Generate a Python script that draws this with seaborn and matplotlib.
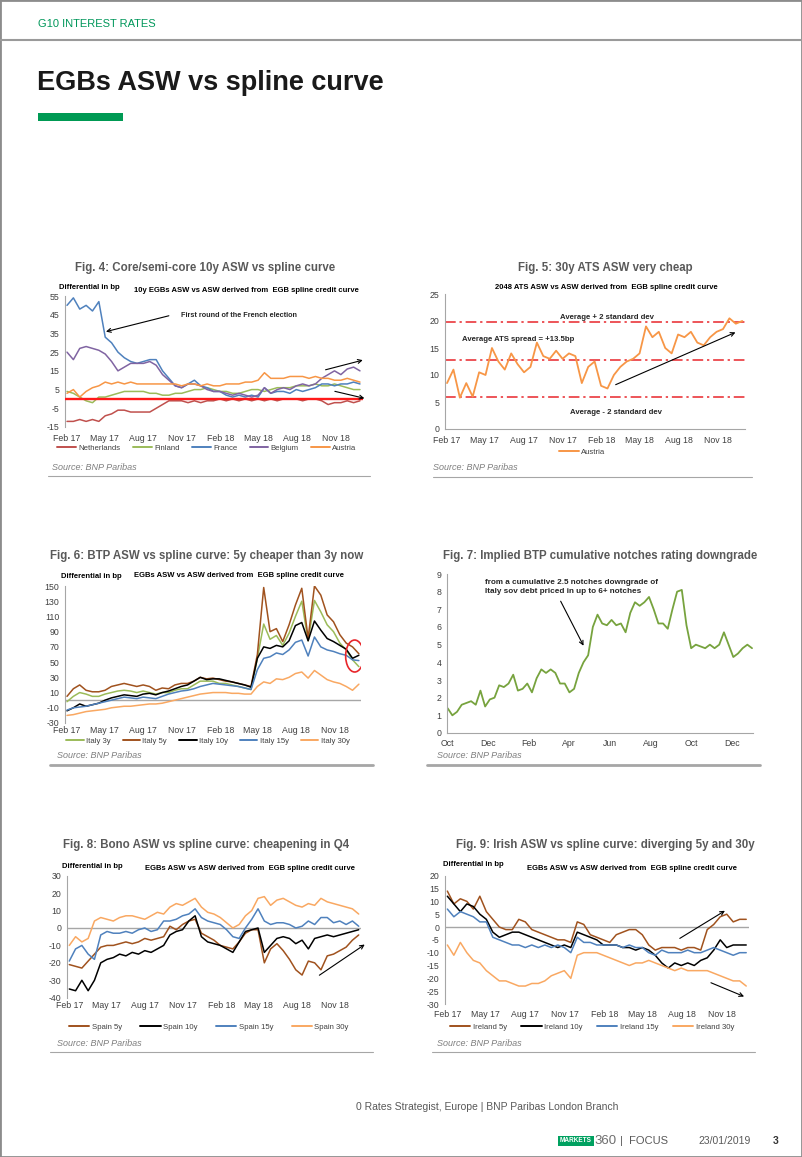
"""
plot.py
EGBs ASW vs spline curve - page with six small Excel-style charts.
"""
import pandas as pd
import matplotlib
matplotlib.use('Agg')
import matplotlib.pyplot as plt
import matplotlib.dates as mdates
from matplotlib.patches import Ellipse, Rectangle
from matplotlib.lines import Line2D
import seaborn as sns

W, H = 802, 1157

# semi-monthly observations, Feb 2017 - end 2018
N_OBS = 47
OBS_START, OBS_END = '2017-02-01', '2018-12-28'

# Fig. 4: 10y core / semi-core
netherlands = [-12, -12, -11, -12, -11, -12, -9, -8, -6, -6, -7, -7, -7, -7, -5, -3, -1, -1, -1, -2,
               -1, -2, -1, -1, 0, -1, 0, -1, 0, -1, 0, -1, 0, -1, 0, 0, 0, -1, 0, 0,
               -1, -3, -2, -2, -1, -2, -1]
finland = [4, 3, 1, -1, -2, 1, 1, 2, 3, 4, 4, 4, 4, 3, 3, 2, 2, 3, 3, 4,
           5, 5, 6, 5, 4, 4, 3, 3, 4, 5, 5, 4, 5, 6, 6, 6, 7, 7, 7, 8,
           7, 7, 8, 7, 6, 5, 5]
france = [50, 54, 48, 50, 47, 52, 33, 30, 25, 22, 20, 19, 20, 21, 21, 15, 11, 7, 6, 8,
          10, 7, 6, 4, 4, 2, 1, 2, 1, 2, 1, 6, 3, 4, 4, 3, 5, 4, 5, 6,
          8, 8, 7, 8, 8, 9, 8]
belgium = [25, 21, 27, 28, 27, 26, 24, 20, 15, 17, 19, 19, 19, 20, 18, 13, 10, 7, 6, 8,
           8, 7, 5, 4, 4, 3, 2, 3, 2, 1, 2, 6, 3, 5, 6, 5, 7, 8, 7, 8,
           11, 13, 15, 13, 16, 17, 15]
austria_10y = [3, 5, 1, 4, 6, 7, 9, 8, 9, 8, 9, 8, 8, 8, 8, 8, 8, 8, 7, 8,
               8, 7, 8, 7, 7, 8, 8, 8, 9, 9, 10, 14, 11, 11, 11, 12, 12, 12, 11, 12,
               11, 11, 10, 10, 11, 10, 9]

# Fig. 5: 2048 ATS
austria_30y = [8.5, 11, 5.8, 8.5, 6, 10.5, 10, 15, 12.5, 11, 14, 12, 10.5, 11.5, 16, 13.5, 13, 14.5, 13, 14,
               13.5, 8.5, 11.5, 12.5, 8, 7.5, 10, 11.5, 12.5, 13, 14, 19, 17, 18, 15, 14, 17.5, 17, 18, 16,
               15.5, 17, 18, 18.5, 20.5, 19.5, 20]
ats_bands = {'upper': 19.8, 'mean': 12.7, 'lower': 5.9}

# Fig. 6: BTP
italy_3y = [-2, 5, 10, 8, 5, 5, 8, 10, 12, 13, 12, 10, 12, 10, 8, 10, 10, 13, 15, 15,
            20, 25, 25, 25, 22, 22, 20, 18, 16, 14, 55, 100, 80, 85, 72, 88, 110, 130, 78, 131,
            116, 99, 90, 75, 66, 53, 44]
italy_5y = [5, 15, 20, 13, 11, 11, 13, 18, 20, 22, 20, 18, 20, 18, 13, 16, 15, 20, 22, 22,
            25, 30, 28, 29, 27, 25, 24, 22, 20, 18, 60, 148, 90, 94, 77, 99, 125, 147, 81, 150,
            138, 112, 103, 86, 75, 70, 61]
italy_10y = [-14, -10, -5, -8, -6, -4, 0, 3, 5, 7, 6, 5, 8, 9, 7, 10, 12, 15, 18, 20,
             25, 30, 27, 28, 28, 26, 24, 22, 20, 17, 55, 70, 68, 72, 70, 78, 98, 102, 78, 104,
             92, 81, 77, 72, 67, 55, 59]
italy_15y = [-13, -10, -9, -8, -6, -4, -2, 0, 2, 4, 3, 2, 4, 3, 2, 5, 8, 10, 12, 13,
             15, 18, 20, 22, 21, 20, 19, 18, 16, 14, 40, 55, 57, 62, 60, 66, 76, 79, 58, 83,
             70, 66, 64, 61, 59, 53, 52]
italy_30y = [-20, -19, -17, -15, -14, -13, -12, -10, -9, -8, -8, -7, -6, -5, -5, -4, -2, 0, 2, 4,
             6, 8, 9, 10, 10, 10, 9, 9, 8, 8, 18, 24, 22, 28, 27, 30, 35, 37, 29, 39,
             33, 27, 24, 22, 18, 13, 21]

# Fig. 7: implied notches, weekly from Oct 2017
NOTCH_START = '2017-10-02'
notches = [1.4, 1.0, 1.2, 1.6, 1.7, 1.8, 1.6, 2.4, 1.5, 1.9, 2.0, 2.7, 2.6, 2.8, 3.3, 2.4, 2.5, 2.8, 2.3, 3.1,
           3.6, 3.4, 3.6, 3.4, 2.8, 2.8, 2.3, 2.5, 3.4, 4.0, 4.4, 6.0, 6.7, 6.2, 6.1, 6.4, 6.1, 6.2, 5.7, 6.8,
           7.4, 7.2, 7.4, 7.7, 7.0, 6.2, 6.2, 5.9, 7.0, 8.0, 8.1, 6.1, 4.8, 5.0, 4.9, 4.8, 5.0, 4.8, 5.0, 5.7,
           5.0, 4.3, 4.5, 4.8, 5.0, 4.8]

# Fig. 8: Bonos
spain_5y = [-21, -22, -23, -19, -15, -11, -10, -10, -9, -8, -9, -8, -6, -7, -6, -5, 1, -1, 2, 4,
            5, -3, -5, -7, -10, -11, -12, -8, -3, -1, -1, -20, -12, -9, -13, -18, -24, -27, -19, -20,
            -24, -16, -15, -13, -11, -7, -4]
spain_10y = [-35, -36, -30, -36, -30, -20, -18, -17, -15, -16, -14, -15, -13, -14, -12, -10, -4, -2, -1, 4,
             7, -5, -8, -9, -10, -12, -14, -8, -2, -1, 0, -14, -10, -6, -5, -6, -9, -7, -12, -6,
             -5, -4, -5, -4, -3, -2, -1]
spain_15y = [-19, -12, -10, -15, -18, -4, -2, -3, -3, -2, -3, -1, 0, -2, -1, 4, 4, 5, 7, 8,
             11, 6, 4, 3, 2, -1, -5, -6, 0, 5, 11, 4, 2, 3, 3, 2, 0, 1, 4, 2,
             6, 6, 3, 4, 2, 4, 1]
spain_30y = [-10, -5, -8, -6, 4, 6, 5, 4, 6, 7, 7, 6, 5, 7, 9, 8, 12, 14, 13, 15,
             17, 12, 9, 8, 6, 3, 0, 2, 7, 10, 17, 18, 13, 16, 17, 15, 13, 12, 14, 13,
             17, 15, 14, 13, 12, 11, 8]

# Fig. 9: Irish
ireland_5y = [14, 9, 11, 10, 7, 12, 6, 3, 0, -1, -1, 3, 2, -1, -2, -3, -4, -5, -5, -6,
              2, 1, -3, -4, -5, -6, -3, -2, -1, -1, -3, -7, -9, -8, -8, -8, -9, -8, -8, -9,
              -1, 1, 4, 5, 2, 3, 3]
ireland_10y = [12, 9, 6, 9, 8, 5, 3, -2, -4, -3, -2, -2, -3, -4, -5, -6, -7, -8, -7, -8,
               -2, -3, -4, -5, -7, -7, -7, -8, -8, -9, -8, -9, -11, -14, -16, -14, -15, -14, -15, -13,
               -12, -9, -5, -8, -7, -7, -7]
ireland_15y = [7, 4, 6, 5, 4, 2, 2, -4, -5, -6, -7, -7, -8, -7, -8, -7, -8, -7, -8, -10,
               -4, -6, -6, -7, -7, -7, -7, -8, -7, -8, -8, -10, -11, -9, -10, -10, -10, -9, -10, -10,
               -9, -8, -9, -10, -11, -10, -10]
ireland_30y = [-7, -11, -6, -10, -13, -14, -17, -19, -21, -21, -22, -23, -23, -22, -22, -21, -19, -18, -17, -20,
               -11, -10, -10, -10, -11, -12, -13, -14, -15, -14, -14, -13, -14, -15, -16, -17, -16, -17, -17, -17,
               -17, -18, -19, -20, -21, -21, -23]

GREEN = '#00975A'
GREY_TXT = '#595959'
AX_TXT = '#404040'
XLIM_A = (pd.Timestamp('2017-01-27'), pd.Timestamp('2019-01-03'))


def box(l, t, r, b):
    return [l / W, 1 - b / H, (r - l) / W, (b - t) / H]


def ftext(fig, x, y, s, **kw):
    fig.text(x / W, 1 - y / H, s, **kw)


def hline(fig, x0, x1, y, color, lw):
    fig.add_artist(Line2D([x0 / W, x1 / W], [1 - y / H] * 2, color=color, lw=lw,
                          transform=fig.transFigure))


def draw_lines(ax, dates, series, colors, lw=1.1):
    df = pd.DataFrame(series)
    df['date'] = dates
    long = df.melt(id_vars='date', var_name='series', value_name='bp')
    sns.lineplot(data=long, x='date', y='bp', hue='series', hue_order=list(series),
                 palette=colors, linewidth=lw, estimator=None, legend=False, ax=ax)


def style(ax, xlim, ylim, yticks, months, fmt, xpad, bottom=True):
    ax.set_xlim(xlim)
    ax.set_ylim(ylim)
    ax.set_yticks(yticks)
    ax.xaxis.set_major_locator(mdates.MonthLocator(bymonth=months))
    ax.xaxis.set_major_formatter(mdates.DateFormatter(fmt))
    ax.set_xlabel('')
    ax.set_ylabel('')
    ax.set_facecolor('none')
    ax.tick_params(axis='y', labelsize=6.3, labelcolor=AX_TXT, color='#A6A6A6',
                   length=2, width=0.6, pad=2)
    ax.tick_params(axis='x', labelsize=6.3, labelcolor=AX_TXT, length=0, pad=xpad)
    for s in ['top', 'right']:
        ax.spines[s].set_visible(False)
    ax.spines['left'].set_color('#A6A6A6')
    ax.spines['left'].set_linewidth(0.8)
    ax.spines['bottom'].set_visible(bottom)
    ax.spines['bottom'].set_color('#A6A6A6')
    ax.spines['bottom'].set_linewidth(0.8)


def legend(ax, fig, colors, x, y, spacing=2.0, hlen=2.6):
    handles = [Line2D([], [], color=c, lw=1.4) for c in colors.values()]
    ax.legend(handles, list(colors), loc='center', bbox_to_anchor=(x / W, 1 - y / H),
              bbox_transform=fig.transFigure, ncol=len(colors), frameon=False,
              fontsize=5.6, handlelength=hlen, handletextpad=0.3, columnspacing=spacing,
              labelcolor=AX_TXT)


def arrow(ax, start, end):
    ax.annotate('', xy=(pd.Timestamp(end[0]), end[1]), xytext=(pd.Timestamp(start[0]), start[1]),
                arrowprops=dict(arrowstyle='->', color='black', lw=0.8, mutation_scale=7),
                annotation_clip=False)


def chart_head(fig, title, xc, yt, sub=None, subx=None, suby=None, diff=None):
    ftext(fig, xc, yt, title, ha='center', va='center', fontsize=8.3, fontweight='bold',
          color=GREY_TXT)
    if sub:
        ftext(fig, subx, suby, sub, ha='center', va='center', fontsize=5.5, fontweight='bold',
              color='black')
    if diff:
        ftext(fig, diff[0], diff[1], 'Differential in bp', ha='left', va='center', fontsize=5.5,
              fontweight='bold', color='black')


def source(fig, x, y, x0, x1, ly, lw=0.8):
    ftext(fig, x, y, 'Source: BNP Paribas', ha='left', va='center', fontsize=6.5,
          style='italic', color='#7F7F7F')
    hline(fig, x0, x1, ly, '#A6A6A6', lw)


def main():
    sns.set_style('white')
    plt.rcParams['font.family'] = ['Liberation Sans', 'DejaVu Sans']
    plt.rcParams['axes.unicode_minus'] = False

    dates = pd.date_range(OBS_START, OBS_END, periods=N_OBS)
    fig = plt.figure(figsize=(W / 100, H / 100), dpi=100)

    # page frame and header
    fig.add_artist(Rectangle((0, 0), 1, 1, transform=fig.transFigure, fill=False,
                             ec='#8C8C8C', lw=2))
    hline(fig, 0, W, 40, '#9A9A9A', 1.5)
    ftext(fig, 38, 24, 'G10 INTEREST RATES', ha='left', va='center', fontsize=8,
          color=GREEN)
    ftext(fig, 37, 83, 'EGBs ASW vs spline curve', ha='left', va='center', fontsize=19.5,
          fontweight='bold', color='#1A1A1A')
    fig.add_artist(Rectangle((38 / W, 1 - 121 / H), 85 / W, 8 / H, transform=fig.transFigure,
                             fc='#009A54', ec='none'))

    # ---- Fig. 4
    ax = fig.add_axes(box(64.9, 296, 362.5, 427))
    c4 = {'Netherlands': '#C0504D', 'Finland': '#9BBB59', 'France': '#4F81BD',
          'Belgium': '#8064A2', 'Austria': '#F79646'}
    ax.axhline(0, color='#FF1A1A', lw=1.7, zorder=3)
    draw_lines(ax, dates, dict(zip(c4, [netherlands, finland, france, belgium, austria_10y])), c4)
    style(ax, XLIM_A, (-15, 55), range(-15, 56, 10), [2, 5, 8, 11], '%b %y', 5, bottom=False)
    ax.text(pd.Timestamp('2017-10-29'), 44.5, 'First round of the French election', fontsize=5.2,
            fontweight='bold', va='center')
    arrow(ax, ('2017-10-07', 44.8), ('2017-04-28', 35.6))
    arrow(ax, ('2018-10-01', 15.2), ('2019-01-10', 21.1))
    arrow(ax, ('2018-10-23', 4.4), ('2019-01-14', 0))
    legend(ax, fig, c4, 207, 448, spacing=1.6, hlen=2.4)
    chart_head(fig, 'Fig. 4: Core/semi-core 10y ASW vs spline curve', 205, 268,
               '10y EGBs ASW vs ASW derived from  EGB spline credit curve', 246, 290, diff=(59, 287))
    source(fig, 52, 467, 48, 370, 476)

    # ---- Fig. 5
    ax = fig.add_axes(box(444.9, 294, 744.8, 429))
    c5 = {'Austria': '#F79646'}
    for v in ats_bands.values():
        ax.axhline(v, color='#E8262B', lw=1.1, ls=(0, (7, 2.5, 1.5, 2.5)))
    draw_lines(ax, dates, {'Austria': austria_30y}, c5, lw=1.3)
    style(ax, XLIM_A, (0, 25), range(0, 26, 5), [2, 5, 8, 11], '%b %y', 5)
    for label, d, y in [('Average + 2 standard dev', '2018-02-13', 20.7),
                        ('Average ATS spread = +13.5bp', '2017-07-18', 16.6),
                        ('Average - 2 standard dev', '2018-03-06', 3.0)]:
        ax.text(pd.Timestamp(d), y, label, ha='center', va='center', fontsize=5.6,
                fontweight='bold')
    arrow(ax, ('2018-02-27', 8.0), ('2018-12-18', 18.1))
    legend(ax, fig, c5, 582, 452)
    chart_head(fig, 'Fig. 5: 30y ATS ASW very cheap', 605, 268,
               '2048 ATS ASW vs ASW derived from  EGB spline credit curve', 606, 287)
    source(fig, 433, 467, 433, 752, 477)

    # ---- Fig. 6
    ax = fig.add_axes(box(64.9, 586, 361.4, 723))
    c6 = {'Italy 3y': '#9BBB59', 'Italy 5y': '#A0521E', 'Italy 10y': '#000000',
          'Italy 15y': '#4F81BD', 'Italy 30y': '#F9A862'}
    ax.axhline(0, color='#A6A6A6', lw=1.0, zorder=0)
    draw_lines(ax, dates, dict(zip(c6, [italy_3y, italy_5y, italy_10y, italy_15y, italy_30y])), c6)
    style(ax, XLIM_A, (-30, 150), range(-30, 151, 20), [2, 5, 8, 11], '%b %y', 2.5, bottom=False)
    ax.add_patch(Ellipse((mdates.date2num(pd.Timestamp('2018-12-18')), 58), width=43, height=42,
                         fill=False, ec='#E8262B', lw=1.2, zorder=5))
    legend(ax, fig, c6, 208, 741, spacing=1.6, hlen=2.2)
    chart_head(fig, 'Fig. 6: BTP ASW vs spline curve: 5y cheaper than 3y now', 207, 556,
               'EGBs ASW vs ASW derived from  EGB spline credit curve', 239, 576, diff=(61, 577))
    source(fig, 57, 756, 50, 373, 765, lw=2)

    # ---- Fig. 7
    ax = fig.add_axes(box(447, 574, 752.7, 733))
    wk = pd.date_range(NOTCH_START, periods=len(notches), freq='7D')
    draw_lines(ax, wk, {'notches': notches}, {'notches': '#77A33E'}, lw=1.3)
    style(ax, (pd.Timestamp('2017-10-01'), pd.Timestamp('2019-01-01')), (0, 9), range(0, 10),
          [2, 4, 6, 8, 10, 12], '%b', 4)
    ax.text(pd.Timestamp('2017-11-27'), 8.25,
            'from a cumulative 2.5 notches downgrade of\nItaly sov debt priced in up to 6+ notches',
            ha='left', va='center', fontsize=5.9, fontweight='bold', linespacing=1.3)
    arrow(ax, ('2018-03-18', 7.6), ('2018-04-25', 4.8))
    chart_head(fig, 'Fig. 7: Implied BTP cumulative notches rating downgrade', 600, 556)
    source(fig, 437, 755, 427, 760, 765, lw=2)

    # ---- Fig. 8
    ax = fig.add_axes(box(67.2, 875.7, 361.2, 997.7))
    c8 = {'Spain 5y': '#A0521E', 'Spain 10y': '#000000', 'Spain 15y': '#4F81BD',
          'Spain 30y': '#F9A862'}
    ax.axhline(0, color='#A6A6A6', lw=1.0, zorder=0)
    draw_lines(ax, dates, dict(zip(c8, [spain_5y, spain_10y, spain_15y, spain_30y])), c8)
    style(ax, XLIM_A, (-40, 30), range(-40, 31, 10), [2, 5, 8, 11], '%b %y', 2.5, bottom=False)
    arrow(ax, ('2018-09-19', -28), ('2019-01-17', -8.6))
    legend(ax, fig, c8, 209, 1027, spacing=2.4)
    chart_head(fig, 'Fig. 8: Bono ASW vs spline curve: cheapening in Q4', 206, 845,
               'EGBs ASW vs ASW derived from  EGB spline credit curve', 250, 869, diff=(62, 866))
    source(fig, 57, 1043, 50, 373, 1052)

    # ---- Fig. 9
    ax = fig.add_axes(box(445.2, 875.7, 748.8, 1004))
    c9 = {'Ireland 5y': '#A0521E', 'Ireland 10y': '#000000', 'Ireland 15y': '#4F81BD',
          'Ireland 30y': '#F9A862'}
    ax.axhline(0, color='#A6A6A6', lw=1.0, zorder=0)
    draw_lines(ax, dates, dict(zip(c9, [ireland_5y, ireland_10y, ireland_15y, ireland_30y])), c9)
    style(ax, XLIM_A, (-30, 20), range(-30, 21, 5), [2, 5, 8, 11], '%b %y', 4, bottom=False)
    arrow(ax, ('2018-07-21', -5.0), ('2018-11-14', 6.9))
    arrow(ax, ('2018-10-01', -21.3), ('2018-12-29', -27.5))
    legend(ax, fig, c9, 592, 1027, spacing=1.9)
    chart_head(fig, 'Fig. 9: Irish ASW vs spline curve: diverging 5y and 30y', 605, 845,
               'EGBs ASW vs ASW derived from  EGB spline credit curve', 632, 869, diff=(443, 865))
    source(fig, 437, 1043, 432, 755, 1052)

    # footer
    ftext(fig, 356, 1107, '0 Rates Strategist, Europe | BNP Paribas London Branch', ha='left',
          va='center', fontsize=7.5, color=GREY_TXT)
    ftext(fig, 560, 1141, 'MARKETS', ha='left', va='center', fontsize=4.7, fontweight='bold',
          color='white', bbox=dict(facecolor='#00A160', edgecolor='none', pad=1.2))
    ftext(fig, 594, 1141, '360', ha='left', va='center', fontsize=9.5, color='#6E6E6E')
    ftext(fig, 620, 1141, '|  FOCUS', ha='left', va='center', fontsize=8, color=GREY_TXT)
    ftext(fig, 698, 1141, '23/01/2019', ha='left', va='center', fontsize=7.5, color=GREY_TXT)
    ftext(fig, 773, 1141, '3', ha='left', va='center', fontsize=7.5, fontweight='bold',
          color='#333333')

    fig.savefig('out.png', dpi=100)


if __name__ == '__main__':
    main()
